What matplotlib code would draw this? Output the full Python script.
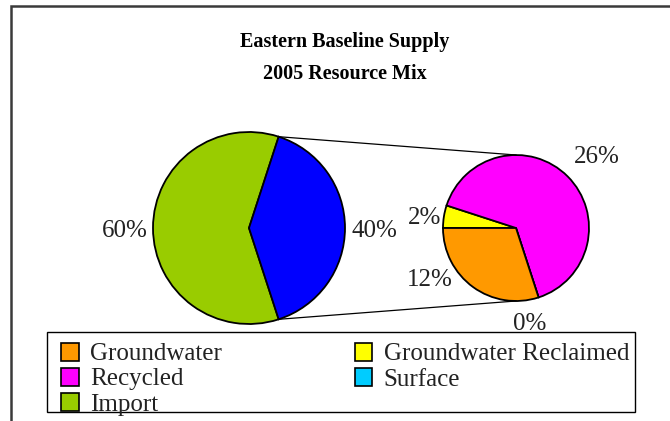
import matplotlib
matplotlib.use('Agg')
import matplotlib.pyplot as plt
from matplotlib.patches import Patch, Rectangle
import numpy as np

# Werte aus dem Diagramm
main_labels = ["Import", "Other"]
main_values = [60, 40]
main_colors = ["#99CC00", "#0000FF"]

# zweite Torte (Aufteilung der 40 %), im Uhrzeigersinn ab 9 Uhr
sub_labels = ["Groundwater Reclaimed", "Recycled", "Surface", "Groundwater"]
sub_values = [2, 26, 0, 12]
sub_colors = ["#FFFF00", "#FF00FF", "#00CCFF", "#FF9900"]

legend_order = ["Groundwater", "Recycled", "Import", "Groundwater Reclaimed", "Surface"]
color_of = dict(zip(main_labels + sub_labels, main_colors + sub_colors))

plt.rcParams['font.family'] = ['Liberation Serif', 'DejaVu Serif']
txt_color = "#222222"

fig = plt.figure(figsize=(6.7, 4.21), dpi=100)
ax = fig.add_axes([0, 0, 1, 1])
H = 421

wp = dict(edgecolor="black", linewidth=1.3)
c1, r1 = (249, H - 228), 96
c2, r2 = (516, H - 228), 73

w1, _ = ax.pie(main_values, colors=main_colors, startangle=72, center=c1, radius=r1,
               wedgeprops=wp, frame=True)
w2, _ = ax.pie(sub_values, colors=sub_colors, startangle=180, counterclock=False,
               center=c2, radius=r2, wedgeprops=wp, frame=True)

# Verbindungslinien von der abgetrennten Scheibe zur zweiten Torte
blue = w1[1]
for ang, yy in [(blue.theta2, c2[1] + r2), (blue.theta1, c2[1] - r2)]:
    a = np.radians(ang)
    ax.plot([c1[0] + r1 * np.cos(a), c2[0]], [c1[1] + r1 * np.sin(a), yy],
            color="black", lw=0.9)

fs = 18
ax.text(c1[0] - r1 - 5, c1[1] - 3, f"{main_values[0]}%", ha="right", va="center", fontsize=fs, color=txt_color)
ax.text(c1[0] + r1 + 6, c1[1] - 3, f"{main_values[1]}%", ha="left", va="center", fontsize=fs, color=txt_color)

# Beschriftungen der zweiten Torte (Lage wie in Excel)
sub_offsets = [(-91, 10), (81, 71), (14, -96), (-86, -52)]
for v, (dx, dy) in zip(sub_values, sub_offsets):
    ax.text(c2[0] + dx, c2[1] + dy, f"{v}%", ha="center", va="center", fontsize=fs,
            color=txt_color, zorder=1)

ax.text(345, H - 42, "Eastern Baseline Supply", ha="center", va="center",
        fontsize=14.5, fontweight="bold", color="black")
ax.text(345, H - 74, "2005 Resource Mix", ha="center", va="center",
        fontsize=14.5, fontweight="bold", color="black")

# äußerer Rahmen
ax.add_patch(Rectangle((11, -20), 700, H - 6 + 20, fill=False, edgecolor="#3a3a3a",
                       linewidth=1.8, clip_on=False))

# Legendenkasten (weiß, verdeckt das "0%" teilweise wie im Original)
ax.add_patch(Rectangle((47, H - 412), 588, 80, facecolor="white", edgecolor="black",
                       linewidth=1.0, zorder=3))

handles = [Patch(facecolor=color_of[l], edgecolor="black", linewidth=1.2, label=l) for l in legend_order]
leg = ax.legend(handles=handles, ncol=2, loc="upper left", mode="expand",
                bbox_to_anchor=(61, H - 403, 568, 60), bbox_transform=ax.transData,
                fontsize=fs, frameon=False, handlelength=0.7,
                handleheight=0.7, handletextpad=0.45, labelspacing=0.1,
                borderpad=0, borderaxespad=0)
leg.set_zorder(4)
for t in leg.get_texts():
    t.set_color(txt_color)

ax.set_xlim(0, 670)
ax.set_ylim(0, H)
ax.set_aspect("equal")
ax.axis("off")

fig.savefig("out.png", dpi=100)
